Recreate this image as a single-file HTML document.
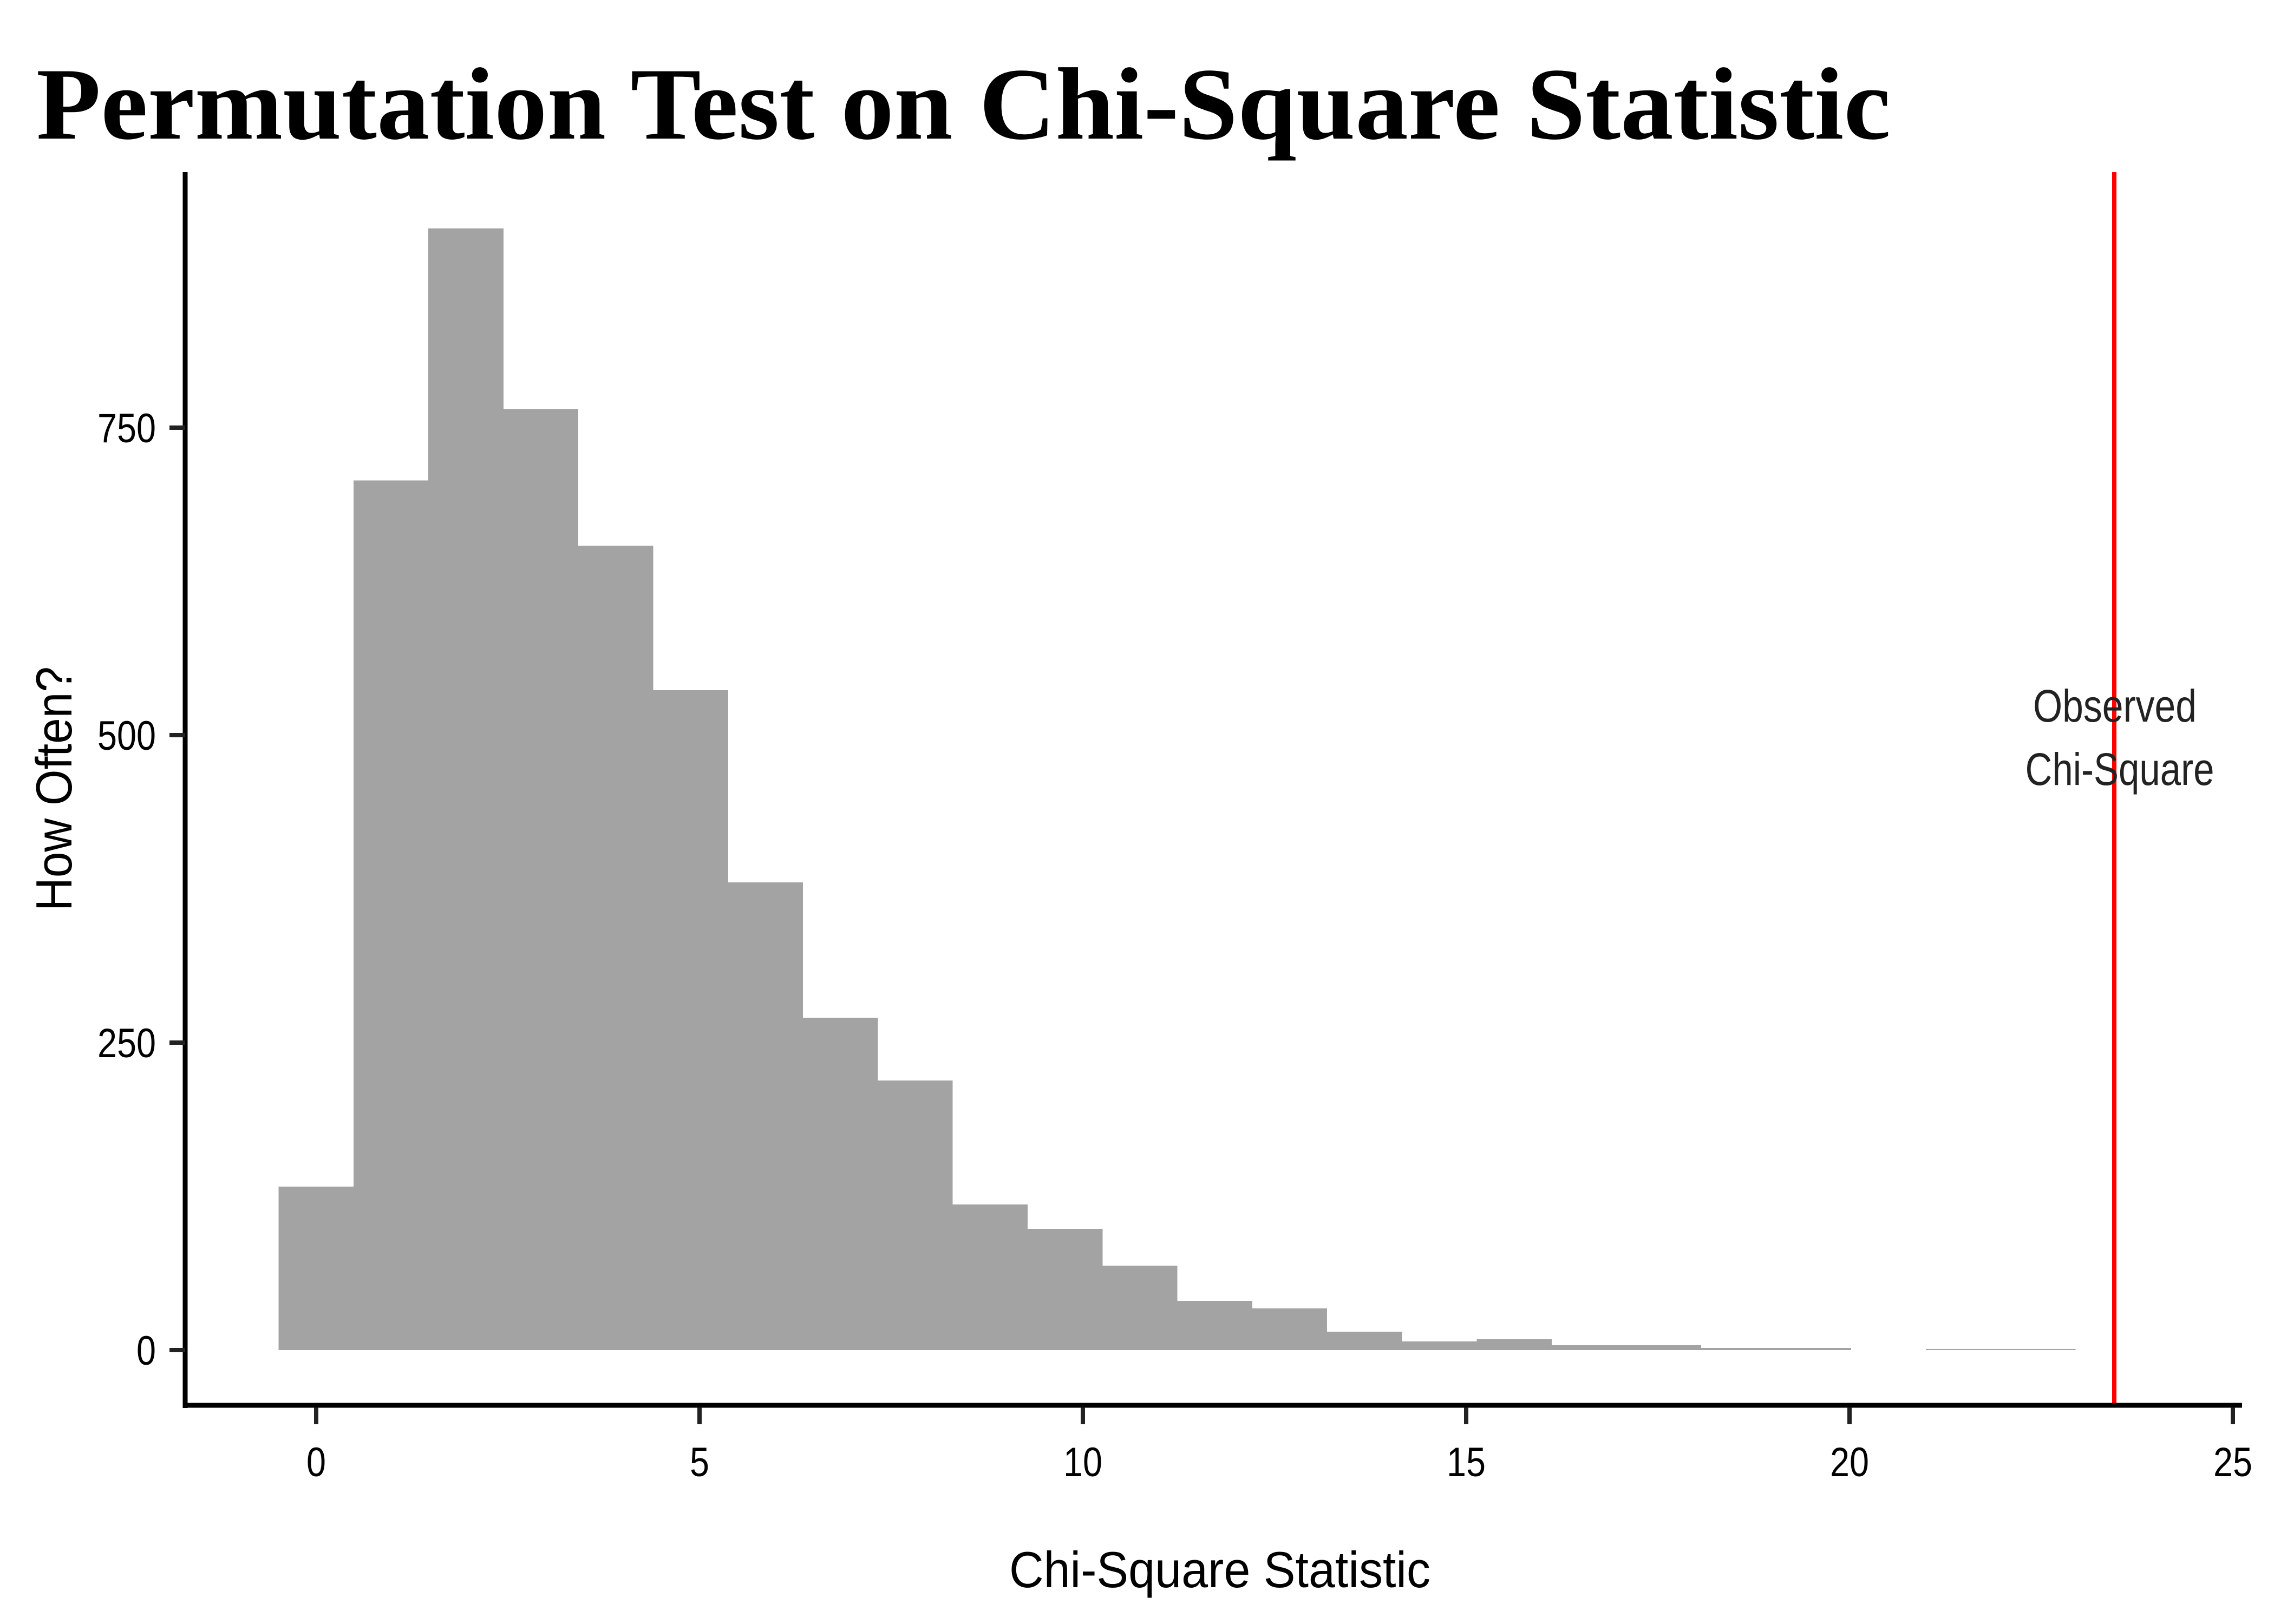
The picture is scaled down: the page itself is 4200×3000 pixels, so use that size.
<!DOCTYPE html>
<html><head><meta charset="utf-8"><style>html,body{margin:0;padding:0;background:#fff}svg{display:block}</style></head>
<body>
<svg width="4200" height="3000" viewBox="0 0 4200 3000" xmlns="http://www.w3.org/2000/svg">
<rect width="4200" height="3000" fill="#fff"/>
<text x="67" y="256" font-family="Liberation Serif, serif" font-weight="bold" font-size="190" textLength="3425" lengthAdjust="spacingAndGlyphs" fill="#000">Permutation Test on Chi-Square Statistic</text>
<g fill="#a3a3a3" shape-rendering="crispEdges">
<rect x="514.5" y="2191.8" width="138.8" height="302.2"/>
<rect x="652.8" y="887.7" width="138.8" height="1606.3"/>
<rect x="791.1" y="422" width="138.8" height="2072"/>
<rect x="929.4" y="756" width="138.8" height="1738"/>
<rect x="1067.7" y="1008" width="138.8" height="1486"/>
<rect x="1206" y="1275" width="138.8" height="1219"/>
<rect x="1344.3" y="1630" width="138.8" height="864"/>
<rect x="1482.6" y="1880" width="138.8" height="614"/>
<rect x="1620.9" y="1996" width="138.8" height="498"/>
<rect x="1759.2" y="2225" width="138.8" height="269"/>
<rect x="1897.5" y="2270" width="138.8" height="224"/>
<rect x="2035.8" y="2338" width="138.8" height="156"/>
<rect x="2174.1" y="2403.1" width="138.8" height="90.9"/>
<rect x="2312.4" y="2417" width="138.8" height="77"/>
<rect x="2450.7" y="2460" width="138.8" height="34"/>
<rect x="2589" y="2478" width="138.8" height="16"/>
<rect x="2727.3" y="2474" width="138.8" height="20"/>
<rect x="2865.6" y="2485" width="276.6" height="9"/>
<rect x="3142.2" y="2490" width="276.6" height="4"/>
<rect x="3557" y="2492" width="276.6" height="2"/>
</g>
<line x1="3905" y1="318" x2="3905" y2="2596" stroke="#ff0000" stroke-width="8"/>
<g font-family="Liberation Sans, sans-serif" fill="#222" font-size="84" text-anchor="middle">
<text x="3906" y="1333" textLength="302" lengthAdjust="spacingAndGlyphs">Observed</text>
<text x="3915" y="1450" textLength="349" lengthAdjust="spacingAndGlyphs">Chi-Square</text>
</g>
<g stroke="#000" stroke-width="9" fill="none">
<line x1="342" y1="318" x2="342" y2="2601"/>
<line x1="338" y1="2596" x2="4141" y2="2596"/>
</g>
<g stroke="#222" stroke-width="8">
<line x1="313" y1="2494" x2="342" y2="2494"/>
<line x1="313" y1="1926" x2="342" y2="1926"/>
<line x1="313" y1="1358" x2="342" y2="1358"/>
<line x1="313" y1="790" x2="342" y2="790"/>
<line x1="584" y1="2600" x2="584" y2="2631"/>
<line x1="1292" y1="2600" x2="1292" y2="2631"/>
<line x1="2000" y1="2600" x2="2000" y2="2631"/>
<line x1="2708" y1="2600" x2="2708" y2="2631"/>
<line x1="3416" y1="2600" x2="3416" y2="2631"/>
<line x1="4124" y1="2600" x2="4124" y2="2631"/>
</g>
<g font-family="Liberation Sans, sans-serif" fill="#000" font-size="76">
<g text-anchor="end">
<text x="288" y="2521" textLength="36" lengthAdjust="spacingAndGlyphs">0</text>
<text x="288" y="1953" textLength="108" lengthAdjust="spacingAndGlyphs">250</text>
<text x="288" y="1385" textLength="108" lengthAdjust="spacingAndGlyphs">500</text>
<text x="288" y="817" textLength="108" lengthAdjust="spacingAndGlyphs">750</text>
</g>
<g text-anchor="middle">
<text x="584" y="2727" textLength="36" lengthAdjust="spacingAndGlyphs">0</text>
<text x="1292" y="2727" textLength="36" lengthAdjust="spacingAndGlyphs">5</text>
<text x="2000" y="2727" textLength="72" lengthAdjust="spacingAndGlyphs">10</text>
<text x="2708" y="2727" textLength="72" lengthAdjust="spacingAndGlyphs">15</text>
<text x="3416" y="2727" textLength="72" lengthAdjust="spacingAndGlyphs">20</text>
<text x="4124" y="2727" textLength="72" lengthAdjust="spacingAndGlyphs">25</text>
</g>
<text x="2253" y="2932" font-size="94" text-anchor="middle" textLength="778" lengthAdjust="spacingAndGlyphs">Chi-Square Statistic</text>
<text transform="translate(132,1457) rotate(-90)" x="0" y="0" font-size="94" text-anchor="middle" textLength="452" lengthAdjust="spacingAndGlyphs">How Often?</text>
</g>
</svg>
</body></html>
